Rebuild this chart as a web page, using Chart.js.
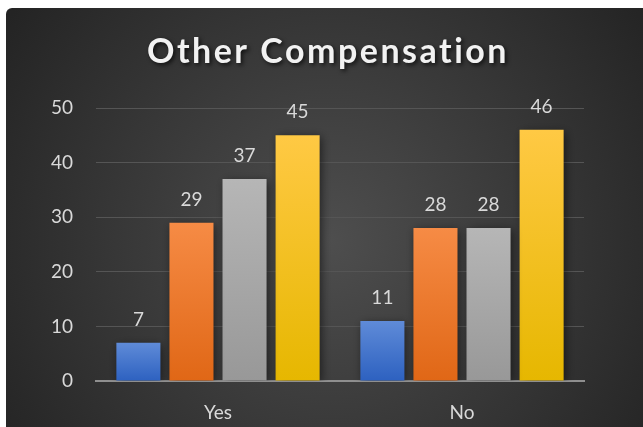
<!DOCTYPE html>
<html lang="en">
  <head>
    <title>Other Compensation</title>
    <meta charset="utf-8" />
    <style>
      body { margin: 0; background: #fff; }
    </style>
  </head>
  <body>
    <canvas id="lienzo" width="643" height="427"></canvas>

    <script src="https://cdn.jsdelivr.net/npm/chart.js"></script>
    <script>
      const categorias = ["Yes", "No"];
      const serieAzul = [7, 11];
      const serieNaranja = [29, 28];
      const serieGris = [37, 28];
      const serieAmarilla = [45, 46];
      const ticksY = [0, 10, 20, 30, 40, 50];
      const titulo = "Other Compensation";

      const fuente = "Lato, 'Open Sans', sans-serif";
      const gris = "#d9d9d9";

      // degradado vertical de cada barra, de su tope hasta la base
      function degradado(arriba, abajo) {
        return (ctx) => {
          const chart = ctx.chart;
          const y = chart.scales.y;
          if (!y || ctx.raw == null) return abajo;
          const y0 = y.getPixelForValue(ctx.raw);
          const y1 = y.getPixelForValue(0);
          if (!isFinite(y0) || !isFinite(y1) || y0 === y1) return abajo;
          const g = chart.ctx.createLinearGradient(0, y0, 0, y1);
          g.addColorStop(0, arriba);
          g.addColorStop(1, abajo);
          return g;
        };
      }

      const fondo = {
        id: "fondo",
        beforeDraw(chart) {
          const { ctx, width, height } = chart;
          ctx.save();
          ctx.fillStyle = "#fff";
          ctx.fillRect(0, 0, width, height);
          const g = ctx.createRadialGradient(330, 240, 0, 330, 240, 400);
          g.addColorStop(0, "#4e4e4e");
          g.addColorStop(1, "#232323");
          ctx.fillStyle = g;
          ctx.beginPath();
          ctx.roundRect(6, 8, width - 6, height - 8, [6, 0, 0, 0]);
          ctx.fill();
          ctx.restore();
        },
        beforeDatasetsDraw(chart) {
          const ctx = chart.ctx;
          ctx.save();
          ctx.shadowColor = "rgba(0,0,0,0.55)";
          ctx.shadowBlur = 9;
          ctx.shadowOffsetX = 2;
          ctx.shadowOffsetY = 2;
        },
        afterDatasetsDraw(chart) {
          const ctx = chart.ctx;
          ctx.restore();

          // valores sobre las barras
          ctx.save();
          ctx.fillStyle = gris;
          ctx.font = "19px " + fuente;
          ctx.textAlign = "center";
          ctx.textBaseline = "middle";
          chart.data.datasets.forEach((ds, i) => {
            chart.getDatasetMeta(i).data.forEach((barra, j) => {
              ctx.fillText(String(ds.data[j]), barra.x, barra.y - 23);
            });
          });
          ctx.restore();
        },
        afterDraw(chart) {
          const ctx = chart.ctx;
          ctx.save();
          ctx.font = "bold 34px " + fuente;
          ctx.letterSpacing = "2.5px";
          ctx.textAlign = "center";
          ctx.textBaseline = "middle";
          ctx.shadowColor = "rgba(0,0,0,0.7)";
          ctx.shadowBlur = 4;
          ctx.shadowOffsetX = 2;
          ctx.shadowOffsetY = 2;
          ctx.fillStyle = "#f2f2f2";
          ctx.fillText(titulo, 328, 52);
          ctx.restore();
        },
      };

      new Chart(document.querySelector("#lienzo"), {
        type: "bar",
        data: {
          labels: categorias,
          datasets: [
            { label: "A", data: serieAzul, backgroundColor: degradado("#5f8bd8", "#2d61c0") },
            { label: "B", data: serieNaranja, backgroundColor: degradado("#f68b45", "#e06716") },
            { label: "C", data: serieGris, backgroundColor: degradado("#b6b6b6", "#989898") },
            { label: "D", data: serieAmarilla, backgroundColor: degradado("#ffc944", "#e6b700") },
          ],
        },
        options: {
          responsive: false,
          animation: false,
          layout: { padding: { top: 108, right: 59, bottom: 4, left: 0 } },
          categoryPercentage: 0.87,
          barPercentage: 0.83,
          plugins: {
            legend: { display: false },
            title: { display: false },
            tooltip: { enabled: false },
          },
          scales: {
            x: {
              afterFit(scale) {
                scale.height = 42;
              },
              grid: { display: false, drawTicks: false },
              border: { display: true, color: "#8f8f8f", width: 2 },
              ticks: { color: gris, padding: 20, font: { family: fuente, size: 19 } },
            },
            y: {
              min: 0,
              max: 50,
              afterBuildTicks(scale) {
                scale.ticks = ticksY.map((v) => ({ value: v }));
              },
              afterFit(scale) {
                scale.width = 96;
              },
              grid: { color: "#555555", lineWidth: 1, drawTicks: false },
              border: { display: false },
              ticks: { color: gris, padding: 23, font: { family: fuente, size: 19 } },
            },
          },
        },
        plugins: [fondo],
      });
    </script>
  </body>
</html>
